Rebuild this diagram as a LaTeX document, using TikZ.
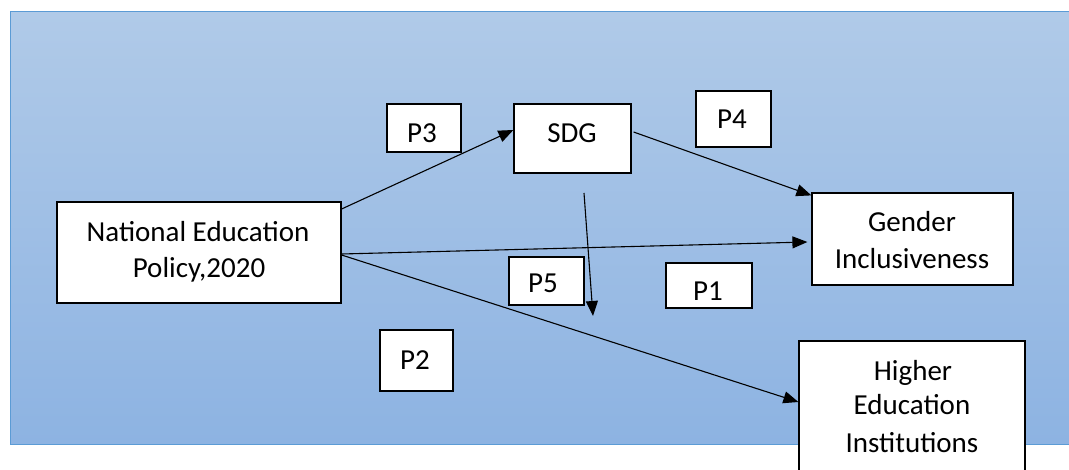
\documentclass[tikz,border=0pt]{standalone}
\usepackage{fontspec}
\setmainfont{Carlito}
\usetikzlibrary{arrows.meta,calc}
\definecolor{bgtop}{HTML}{B0CAE8}
\definecolor{bgbot}{HTML}{8DB3E2}
\definecolor{bgline}{HTML}{5B9BD5}
\begin{document}
\begin{tikzpicture}[x=1pt,y=-1pt,
  box/.style={draw=black,fill=white,line width=1.2pt,inner sep=0pt},
  txt/.style={anchor=base,inner sep=0pt,font=\fontsize{29}{35}\selectfont},
  conn/.style={line width=1.1pt,-{Triangle[length=15pt,width=12pt]}}]
\useasboundingbox (0,0) rectangle (1069,470);
\shade[top color=bgtop,bottom color=bgbot] (10,12) rectangle (1069,444);
\draw[bgline,line width=1pt] (1069,444) -- (10,444) -- (10,12) -- (1069,12);
% boxes
\node[box,minimum width=284,minimum height=101] (nep) at (199,252.5) {};
\node[box,minimum width=117,minimum height=69] (sdg) at (572.5,138.5) {};
\node[box,minimum width=74,minimum height=48] (p3) at (424,128) {};
\node[box,minimum width=75,minimum height=56] (p4) at (733.5,119) {};
\node[box,minimum width=75,minimum height=48] (p5) at (546.5,281) {};
\node[box,minimum width=86,minimum height=45] (p1) at (709,285.5) {};
\node[box,minimum width=73,minimum height=61] (p2) at (416.5,360.5) {};
\node[box,minimum width=201,minimum height=92] (gender) at (912.5,239) {};
\node[box,minimum width=226,minimum height=131] (higher) at (912,406.5) {};
% texts
\node[txt] (t1) at (198,242) {National Education};
\node[txt] (t2) at (199,278) {Policy,2020};
\node[txt] (t3) at (572,143) {SDG};
\node[txt] (t4) at (422,143) {P3};
\node[txt] (t5) at (732,129) {P4};
\node[txt] (t6) at (543,293) {P5};
\node[txt] (t7) at (708,301) {P1};
\node[txt] (t8) at (415,370) {P2};
\node[txt] (t9) at (912,232) {Gender};
\node[txt] (t10) at (912,269) {Inclusiveness};
\node[txt] (t11) at (913,381) {Higher};
\node[txt] (t12) at (912,415) {Education};
\node[txt] (t13) at (912,453) {Institutions};
% connectors
\coordinate (vs) at (584,193);
\coordinate (ve) at (593,316);
\draw[conn] ($(nep.east)+(0,-43.5)$) -- ($(sdg.west)+(0,-8.5)$);
\draw[conn] ($(sdg.east)+(2,-6.5)$) -- ($(gender.north west)+(0,3)$);
\draw[conn] ($(nep.east)+(0,1.5)$) -- ($(gender.west)+(-4,3)$);
\draw[conn] ($(nep.east)+(0,2.5)$) -- ($(higher.west)+(0,-4.5)$);
\draw[conn] (vs) -- (ve);
\end{tikzpicture}
\end{document}
